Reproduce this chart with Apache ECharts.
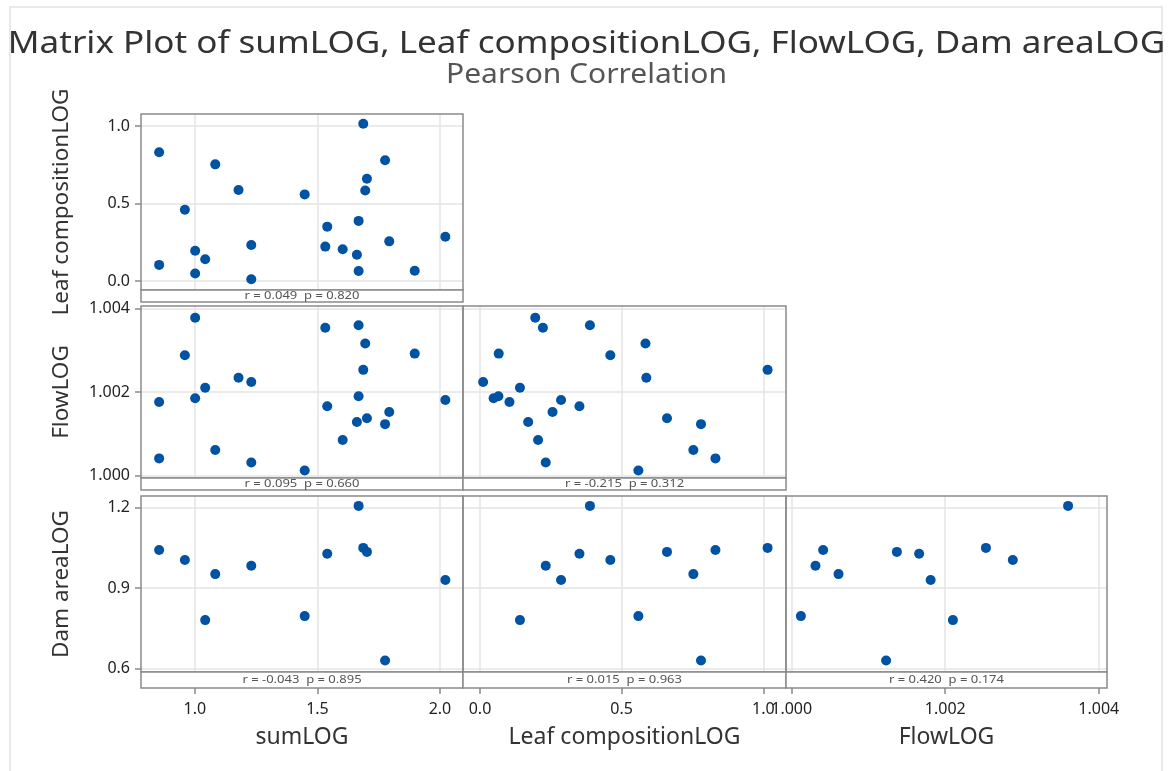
<!DOCTYPE html>
<html><head><meta charset="utf-8">
<script src="https://cdn.jsdelivr.net/npm/echarts@6/dist/echarts.min.js"></script>
<style>html,body{margin:0;padding:0;background:#fff}#c{width:1173px;height:771px}</style>
</head><body><div id="c"></div>
<script>
// ---- data ----
const varNames = ['sumLOG', 'Leaf compositionLOG', 'FlowLOG', 'Dam areaLOG'];
const sumLOG  = [0.854, 0.854, 0.959, 1.001, 1.001, 1.042, 1.083, 1.178, 1.230, 1.230, 1.448, 1.540,
                 1.532, 1.603, 1.661, 1.668, 1.668, 1.687, 1.695, 1.702, 1.776, 1.793, 1.897, 2.022];
const leafLOG = [0.831, 0.104, 0.460, 0.195, 0.048, 0.141, 0.753, 0.587, 0.232, 0.011, 0.559, 0.351,
                 0.222, 0.205, 0.170, 0.388, 0.065, 1.015, 0.584, 0.660, 0.780, 0.256, 0.066, 0.286];
const flowLOG = [1.00041, 1.00176, 1.00288, 1.00378, 1.00185, 1.00210, 1.00061, 1.00234, 1.00031, 1.00224, 1.00012, 1.00166,
                 1.00354, 1.00085, 1.00128, 1.00360, 1.00190, 1.00253, 1.00316, 1.00137, 1.00123, 1.00152, 1.00292, 1.00181];
const damLOG  = [1.042, null, 1.005, null, null, 0.780, 0.952, null, 0.983, null, 0.795, 1.028,
                 null, null, null, 1.207, null, 1.050, null, 1.035, 0.629, null, null, 0.930];
const sumTicks  = [1.0, 1.5, 2.0];
const leafTicks = [0.0, 0.5, 1.0];
const flowTicks = [1.000, 1.002, 1.004];
const damTicks  = [0.6, 0.9, 1.2];
const corrR = ['0.049', '0.095', '-0.215', '-0.043', '0.015', '0.420'];
const corrP = ['0.820', '0.660', '0.312', '0.895', '0.963', '0.174'];
const titleText = 'Matrix Plot of sumLOG, Leaf compositionLOG, FlowLOG, Dam areaLOG';
const subtitleText = 'Pearson Correlation';

// ---- layout / axes ----
const vars = [sumLOG, leafLOG, flowLOG, damLOG];
const ticks = [sumTicks, leafTicks, flowTicks, damTicks];
const decimals = [1, 1, 3, 1];
const xRange = [[0.78, 2.094], [-0.060, 1.080], [0.999926, 1.004107], null];
const yRange = [null, [-0.058, 1.078], [0.99994, 1.00406], [0.586, 1.244]];
const colX = [[141, 463], [463, 786], [786, 1107]];
const rowY = [[114, 290], [306, 478], [496, 672]];
const stripH = [12, 12, 16];
const panels = [[0, 1], [0, 2], [1, 2], [0, 3], [1, 3], [2, 3]]; // [xVar, yVar]

const FONT = 'Noto Sans';
const BORDER = '#8a8a8a';
const grids = [], xAxes = [], yAxes = [], series = [], graphics = [];

graphics.push({type: 'rect', shape: {x: 10, y: 7, width: 1152, height: 800},
  style: {fill: 'none', stroke: '#e2e2e2', lineWidth: 1.5}, z: 1, silent: true});
graphics.push({type: 'text', x: 586.5, y: 44, scaleX: 1.13, z: 50, silent: true,
  style: {text: titleText, fontSize: 31, fontFamily: FONT, fill: '#333', align: 'center', verticalAlign: 'middle'}});
graphics.push({type: 'text', x: 586.5, y: 75, scaleX: 1.11, z: 50, silent: true,
  style: {text: subtitleText, fontSize: 27, fontFamily: FONT, fill: '#555', align: 'center', verticalAlign: 'middle'}});

function fmtFor(vi) {
  return v => ticks[vi].some(t => Math.abs(t - v) < 1e-9) ? v.toFixed(decimals[vi]) : '';
}

panels.forEach(([xv, yv], i) => {
  const c = xv, r = yv - 1;
  const left = colX[c][0], right = colX[c][1], top = rowY[r][0], bottom = rowY[r][1];
  const isBottom = r === 2, isLeft = c === 0;
  grids.push({left: left, top: top, width: right - left, height: bottom - top, containLabel: false});
  xAxes.push({
    type: 'value', gridIndex: i, min: xRange[xv][0], max: xRange[xv][1], splitNumber: 2,
    offset: isBottom ? stripH[r] : 0,
    axisLine: {show: false},
    axisTick: {show: isBottom, length: 6, customValues: ticks[xv], lineStyle: {color: BORDER, width: 1.5}},
    axisLabel: {show: isBottom, formatter: fmtFor(xv), customValues: ticks[xv], color: '#222', fontSize: 16, fontFamily: FONT, margin: 13},
    splitLine: {show: true, lineStyle: {color: '#e4e4e4', width: 1.5}},
    name: isBottom ? varNames[xv] : '', nameLocation: 'middle', nameGap: 38,
    nameTextStyle: {fontSize: 23, color: '#333', fontFamily: FONT}
  });
  yAxes.push({
    type: 'value', gridIndex: i, min: yRange[yv][0], max: yRange[yv][1], splitNumber: 2,
    axisLine: {show: false},
    axisTick: {show: isLeft, length: 6, customValues: ticks[yv], lineStyle: {color: BORDER, width: 1.5}},
    axisLabel: {show: isLeft, formatter: fmtFor(yv), customValues: ticks[yv], color: '#222', fontSize: 16, fontFamily: FONT, margin: 11},
    splitLine: {show: true, lineStyle: {color: '#e4e4e4', width: 1.5}},
    name: isLeft ? varNames[yv] : '', nameLocation: 'middle', nameGap: 68, nameRotate: 90,
    nameTextStyle: {fontSize: 22.5, color: '#333', fontFamily: FONT}
  });
  const data = [];
  vars[xv].forEach((xval, k) => {
    const yval = vars[yv][k];
    if (xval != null && yval != null) data.push([xval, yval]);
  });
  series.push({type: 'scatter', xAxisIndex: i, yAxisIndex: i, data: data, symbolSize: 10,
    itemStyle: {color: '#0052A3', opacity: 1}, emphasis: {disabled: true}, z: 5});
  // panel border
  graphics.push({type: 'rect', shape: {x: left, y: top, width: right - left, height: bottom - top},
    style: {fill: 'none', stroke: BORDER, lineWidth: 1.5}, z: 100, silent: true});
  // statistics strip
  graphics.push({type: 'rect', shape: {x: left, y: bottom, width: right - left, height: stripH[r]},
    style: {fill: '#fff', stroke: BORDER, lineWidth: 1.5}, z: 100, silent: true});
  graphics.push({type: 'text', x: (left + right) / 2, y: bottom + stripH[r] / 2 + 0.5, scaleX: 1.3, z: 101, silent: true,
    style: {text: 'r = ' + corrR[i] + '  p = ' + corrP[i], fontSize: 10, fontFamily: FONT,
      fill: '#555', align: 'center', verticalAlign: 'middle'}});
});

const chart = echarts.init(document.getElementById('c'), null, {renderer: 'canvas'});
chart.setOption({
  animation: false,
  backgroundColor: '#fff',
  grid: grids, xAxis: xAxes, yAxis: yAxes, series: series, graphic: graphics
});
</script></body></html>
